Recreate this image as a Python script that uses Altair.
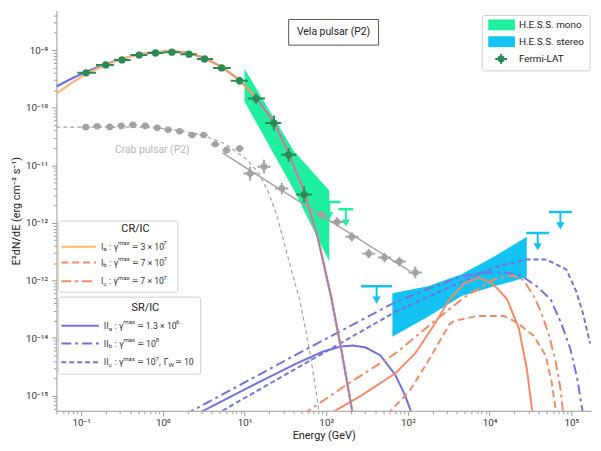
import altair as alt
import pandas as pd

# ---------------- data ----------------
# Fermi-LAT, Vela pulsar P2
fermi_E = [0.115, 0.200, 0.316, 0.513, 0.813, 1.29, 2.09, 3.24, 5.25, 8.71, 13.8, 22.9, 34.7, 53.7]
fermi_F = [4.03e-10, 5.53e-10, 6.74e-10, 8.2e-10, 8.9e-10, 9.2e-10, 8.5e-10, 7.0e-10, 4.9e-10,
           2.94e-10, 1.44e-10, 5.4e-11, 1.52e-11, 3.1e-12]
fermi_Elo = [0.090, 0.152, 0.251, 0.403, 0.646, 1.02, 1.64, 2.60, 4.12, 6.76, 11.0, 17.8, 28.2, 43.2]
fermi_Ehi = [0.152, 0.251, 0.403, 0.646, 1.02, 1.64, 2.60, 4.12, 6.76, 11.0, 17.8, 28.2, 43.2, 66.8]
fermi_dF = [0.05, 0.05, 0.05, 0.05, 0.05, 0.05, 0.05, 0.05, 0.05, 0.07, 0.09, 0.13, 0.12, 0.14]

# Crab pulsar P2
crab_E = [0.114, 0.157, 0.224, 0.310, 0.430, 0.607, 0.853, 1.16, 1.61, 2.28, 3.16, 4.38, 6.00, 8.69,
          11.7, 17.3, 28.6, 89.3, 136, 206, 331, 518, 785, 1230]
crab_F = [4.59e-11, 4.77e-11, 4.64e-11, 4.83e-11, 5.03e-11, 4.83e-11, 4.47e-11, 4.13e-11, 3.88e-11,
          3.35e-11, 3.35e-11, 2.32e-11, 1.83e-11, 1.95e-11, 7.18e-12, 9.46e-12, 3.97e-12, 1.37e-12,
          1.04e-12, 5.73e-13, 2.93e-13, 2.50e-13, 2.13e-13, 1.38e-13]
crab_dE = [0.05] * 14 + [0.08] * 10
crab_dF = [0.04] * 12 + [0.06, 0.06, 0.12, 0.12, 0.10, 0.08, 0.08, 0.08, 0.08, 0.08, 0.08, 0.10]
crab_cut_E = [0.0498, 0.665, 1.53, 3.08, 5.83, 10.8, 15.0, 19.9, 24.8, 31.0, 37.8, 47.1, 57.3, 67.8, 75.7, 82.2]
crab_cut_F = [4.59e-11, 4.59e-11, 4.08e-11, 3.35e-11, 2.34e-11, 1.25e-11, 7.18e-12, 3.26e-12, 1.37e-12,
              4.18e-13, 1.44e-13, 4.76e-14, 1.19e-14, 3.0e-15, 1.12e-15, 4.69e-16]
crab_pl_E = [5.37, 1067]
crab_pl_F = [1.64e-11, 1.44e-13]

# H.E.S.S. bands
mono_E = [10.0, 39.9, 109]
mono_hi = [4.72e-10, 1.78e-11, 3.66e-12]
mono_lo = [1.28e-10, 3.81e-12, 2.13e-13]
stereo_E = [646, 1762, 4540, 11380, 28500]
stereo_hi = [6.04e-14, 7.96e-14, 1.28e-13, 2.6e-13, 5.73e-13]
stereo_lo = [1.06e-14, 2.34e-14, 5.36e-14, 7.96e-14, 1.135e-13]

# upper limits
mono_ul_E = [109, 174]
mono_ul_F = [2.3e-12, 1.73e-12]
mono_ul_w = [0.14, 0.09]
stereo_ul_E = [414, 38800, 73600]
stereo_ul_F = [7.96e-14, 6.7e-13, 1.54e-12]
stereo_ul_w = [0.19, 0.14, 0.14]

# model curves: GeV component
IIa_gev_E = [0.0498, 0.0716, 0.115, 0.200, 0.313, 0.518, 0.807, 1.30, 2.08, 3.25, 5.22, 8.61, 13.8, 22.9,
             34.7, 54.2, 80.0, 115, 156, 212]
IIa_gev_F = [2.32e-10, 3.05e-10, 4.20e-10, 5.75e-10, 7.01e-10, 8.53e-10, 9.24e-10, 9.61e-10, 8.89e-10,
             7.29e-10, 5.11e-10, 3.05e-10, 1.50e-10, 5.60e-11, 1.64e-11, 3.39e-12, 5.09e-13, 5.15e-14,
             5.42e-15, 4.69e-16]
Ia_gev_F = [1.76e-10, 2.51e-10, 3.87e-10, 5.53e-10] + IIa_gev_F[4:]
# TeV components
IIa_E = [2.53, 10.8, 43.4, 92.0, 152, 212, 305, 462, 703, 929, 1127]
IIa_F = [4.69e-16, 1.36e-15, 3.66e-15, 5.86e-15, 7.14e-15, 7.43e-15, 6.87e-15, 5.01e-15, 2.28e-15,
         9.93e-16, 4.69e-16]
IIb_E = [1.86, 2.67, 43.4, 703, 2138, 4540, 8610, 15030, 24150, 37670, 55700, 75700, 97200, 118000, 139600]
IIb_F = [4.69e-16, 6.18e-16, 5.21e-15, 4.23e-14, 7.96e-14, 1.18e-13, 1.38e-13, 1.38e-13, 1.23e-13,
         7.96e-14, 4.76e-14, 1.77e-14, 6.61e-15, 2.02e-15, 4.69e-16]
IIc_E = [4.42, 43.4, 703, 2825, 11380, 28500, 49800, 86900, 114800, 139600, 169800]
IIc_F = [4.69e-16, 3.0e-15, 2.85e-14, 7.06e-14, 1.69e-13, 2.31e-13, 2.31e-13, 1.56e-13, 6.53e-14,
         2.63e-14, 8.05e-15]
Ia_E = [106, 265, 703, 1227, 2138, 3250, 4930, 7500, 11380, 16370, 22860, 28500, 33700]
Ia_F = [4.69e-16, 9.93e-16, 2.46e-15, 5.42e-15, 1.77e-14, 4.76e-14, 8.95e-14, 1.135e-13, 8.28e-14,
        4.76e-14, 1.46e-14, 3.0e-15, 4.69e-16]
Ib_E = [562, 703, 1067, 1762, 3250, 3733, 7100, 15030, 21000, 34700, 48400, 57300, 65800]
Ib_F = [4.69e-16, 6.68e-16, 1.26e-15, 3.95e-15, 1.77e-14, 2.0e-14, 2.43e-14, 2.43e-14, 1.92e-14,
        1.10e-14, 5.01e-15, 1.79e-15, 4.69e-16]
Ic_E = [51.3, 175, 703, 2138, 4930, 11380, 18800, 26200, 34700, 42200, 52700, 64000, 73600, 80000]
Ic_F = [4.69e-16, 1.53e-15, 5.42e-15, 2.0e-14, 5.15e-14, 1.05e-13, 1.23e-13, 1.01e-13, 5.36e-14,
        2.96e-14, 1.19e-14, 4.11e-15, 1.36e-15, 4.69e-16]

x_decades = [-1, 0, 1, 2, 3, 4, 5]
y_decades = [-15, -14, -13, -12, -11, -10, -9]

# ---------------- styling ----------------
FONT = "Roboto"
GREEN_BAND = "#1ff0a0"
CYAN = "#14c3f2"
FERMI = "#2d8a55"
CRAB = "#a3a3a3"
ORANGE = "#fdb870"
SALMON = "#f58a66"
PURPLE = "#7272e2"

W, H = 541, 405
X_DOM = [0.0498, 1.745e5]
Y_DOM = [5.48e-16, 4.85e-9]
xs = alt.Scale(type="log", domain=X_DOM, nice=False)
ys = alt.Scale(type="log", domain=Y_DOM, nice=False)

SUP = str.maketrans("-0123456789", "⁻⁰¹²³⁴⁵⁶⁷⁸⁹")


def label_expr(decades):
    parts = []
    for k in decades:
        parts.append(f"abs(log(datum.value)/LN10 - ({k})) < 0.01 ? '10{str(k).translate(SUP)}'")
    return " : ".join(parts) + " : ''"


def minor_values(lo, hi):
    vals = []
    for k in range(-17, 7):
        for m in range(1, 10):
            v = m * 10.0 ** k
            if lo <= v <= hi:
                vals.append(v)
    return vals


IS_MAJOR = "abs(log(datum.value)/LN10 - round(log(datum.value)/LN10)) < 0.001"
tick_size = {"condition": {"test": IS_MAJOR, "value": 5}, "value": 3}

x_axis = alt.Axis(values=minor_values(*X_DOM), labelExpr=label_expr(x_decades), title="Energy (GeV)",
                  tickSize=tick_size, grid=False, labelFont=FONT, labelFontSize=10, labelColor="#333",
                  titleFont=FONT, titleFontSize=11, titleFontWeight="normal", titleColor="#222",
                  domainColor="#9a9a9a", tickColor="#9a9a9a", labelPadding=2,
                  titleY=25, titleBaseline="middle", labelFlush=False)
y_axis = alt.Axis(values=minor_values(*Y_DOM), labelExpr=label_expr(y_decades),
                  title="E²dN/dE (erg cm⁻² s⁻¹)", tickSize=tick_size, grid=False, labelFont=FONT,
                  labelFontSize=10, labelColor="#333", titleFont=FONT, titleFontSize=11,
                  titleFontWeight="normal", titleColor="#222", domainColor="#9a9a9a", tickColor="#9a9a9a",
                  labelPadding=4, titleX=-40, titleY=H / 2, titleBaseline="middle", labelFlush=False)


def X(field="E"):
    return alt.X(f"{field}:Q", scale=xs, axis=x_axis)


def Y(field="F"):
    return alt.Y(f"{field}:Q", scale=ys, axis=y_axis)


def curve(E, F, color, width=2.0, dash=None, opacity=1.0):
    df = pd.DataFrame({"E": E, "F": F})
    kw = dict(clip=True, color=color, strokeWidth=width, opacity=opacity)
    if dash:
        kw["strokeDash"] = dash
    return alt.Chart(df).mark_line(**kw).encode(x=X(), y=Y())


def band(E, lo, hi, color):
    df = pd.DataFrame({"E": E, "lo": lo, "F": hi})
    return alt.Chart(df).mark_area(clip=True, color=color, opacity=1).encode(
        x=X(), y=Y(), y2="lo:Q")


def points(E, F, dE_lo, dE_hi, F_lo, F_hi, color, size):
    df = pd.DataFrame({"E": E, "F": F, "Elo": dE_lo, "Ehi": dE_hi, "Flo": F_lo, "Fhi": F_hi})
    base = alt.Chart(df)
    h = base.mark_rule(clip=True, color=color, strokeWidth=2).encode(x=X("Elo"), x2="Ehi:Q", y=Y())
    v = base.mark_rule(clip=True, color=color, strokeWidth=2).encode(x=X(), y=Y("Flo"), y2="Fhi:Q")
    p = base.mark_point(clip=True, filled=True, color=color, size=size, opacity=1, shape="circle").encode(
        x=X(), y=Y())
    return [h, v, p]


def upper_limits(E, F, w, color):
    df = pd.DataFrame({"E": E, "F": F,
                       "Elo": [e * 10 ** (-d) for e, d in zip(E, w)],
                       "Ehi": [e * 10 ** d for e, d in zip(E, w)],
                       "Ftip": [f * 10 ** (-0.24) for f in F]})
    base = alt.Chart(df)
    bar = base.mark_rule(clip=True, color=color, strokeWidth=2.5).encode(x=X("Elo"), x2="Ehi:Q", y=Y())
    stem = base.mark_rule(clip=True, color=color, strokeWidth=2).encode(x=X(), y=Y(), y2="Ftip:Q")
    head = base.mark_point(clip=True, shape="triangle-down", filled=True, color=color, size=70,
                           opacity=1).encode(x=X(), y=Y("Ftip"))
    return [bar, stem, head]


one = pd.DataFrame({"k": [0]})


def txt(x, y, s, size=9, color="#333", align="left", font=FONT):
    return alt.Chart(one).mark_text(text=s, align=align, baseline="middle", fontSize=size, color=color,
                                    font=font).encode(x=alt.value(x), y=alt.value(y))


def rect(x1, y1, x2, y2, fill="white", stroke=None, sw=1, radius=0):
    kw = dict(fill=fill, cornerRadius=radius)
    if stroke:
        kw.update(stroke=stroke, strokeWidth=sw)
    return alt.Chart(one).mark_rect(**kw).encode(x=alt.value(x1), x2=alt.value(x2), y=alt.value(y1),
                                                 y2=alt.value(y2))


def seg(x1, x2, y, color, width=2, dash=None):
    kw = dict(color=color, strokeWidth=width)
    if dash:
        kw["strokeDash"] = dash
    return alt.Chart(one).mark_rule(**kw).encode(x=alt.value(x1), x2=alt.value(x2), y=alt.value(y))


# approximate advance widths (em) for placing sub/superscript pieces
CW = {"I": 0.28, "a": 0.54, "b": 0.56, "c": 0.52, "m": 0.88, "x": 0.50, "W": 0.77, ":": 0.24,
      " ": 0.25, ".": 0.26, ",": 0.20, "γ": 0.49, "Γ": 0.55, "×": 0.45, "≃": 0.84}
for d in "0123456789":
    CW[d] = 0.56
NORMAL, SMALL = 8.8, 6.2


def rich(x, y, pieces):
    out = []
    cx = x
    for s, kind in pieces:
        if kind == "gap":
            cx += s
            continue
        size = NORMAL if kind == "n" else SMALL
        dy = {"n": 0, "sub": 2.8, "sup": -3.6}[kind]
        font = "DejaVu Sans" if s == "≃" else FONT
        out.append(txt(cx, y + dy, s, size=size if s != "≃" else 8.0, font=font))
        cx += sum(CW.get(c, 0.55) for c in s) * (size if s != "≃" else 8.0)
    return out


def gamma_max(value_pieces):
    return [(2.5, "gap"), (":", "n"), (2.5, "gap"), ("γ", "n"), ("max", "sup"), (2.2, "gap"),
            ("≃", "n"), (2.0, "gap")] + value_pieces


DASH_D = [7, 4]
DASH_DD = [10, 4, 3, 4]
DASH_S = [5, 3]

layers = []
layers.append(band(mono_E, mono_lo, mono_hi, GREEN_BAND))
layers.append(band(stereo_E, stereo_lo, stereo_hi, CYAN))

# Crab
layers.append(curve(crab_cut_E, crab_cut_F, CRAB, width=1.2, dash=[4, 3]))
layers.append(curve(crab_pl_E, crab_pl_F, CRAB, width=1.4))
layers += points(crab_E, crab_F,
                 [e * 10 ** (-d) for e, d in zip(crab_E, crab_dE)],
                 [e * 10 ** d for e, d in zip(crab_E, crab_dE)],
                 [f * 10 ** (-d) for f, d in zip(crab_F, crab_dF)],
                 [f * 10 ** d for f, d in zip(crab_F, crab_dF)], CRAB, 45)

# model curves
layers.append(curve(IIa_E, IIa_F, PURPLE))
layers.append(curve(IIb_E, IIb_F, PURPLE, dash=DASH_DD))
layers.append(curve(IIc_E, IIc_F, PURPLE, dash=DASH_S))
layers.append(curve(Ia_E, Ia_F, SALMON))
layers.append(curve(Ib_E, Ib_F, SALMON, dash=DASH_D))
layers.append(curve(Ic_E, Ic_F, SALMON, dash=DASH_DD))
layers.append(curve(IIa_gev_E, IIa_gev_F, PURPLE, width=2.2))
layers.append(curve(IIa_gev_E, Ia_gev_F, ORANGE, width=2.2))
layers.append(curve(IIa_gev_E[7:], Ia_gev_F[7:], SALMON, width=1.6, opacity=0.8))
layers.append(curve(IIa_gev_E[12:], IIa_gev_F[12:], PURPLE, width=1.2, opacity=0.8))

# Fermi-LAT
layers += points(fermi_E, fermi_F, fermi_Elo, fermi_Ehi,
                 [f * 10 ** (-d) for f, d in zip(fermi_F, fermi_dF)],
                 [f * 10 ** d for f, d in zip(fermi_F, fermi_dF)], FERMI, 55)

# upper limits
layers += upper_limits(mono_ul_E, mono_ul_F, mono_ul_w, GREEN_BAND)
layers += upper_limits(stereo_ul_E, stereo_ul_F, stereo_ul_w, CYAN)

# annotations
layers.append(rect(235, 9, 326, 35, stroke="#555", sw=1))
layers.append(txt(280.5, 22, "Vela pulsar (P2)", size=10.5, color="#222", align="center"))
layers.append(txt(97, 141, "Crab pulsar (P2)", size=10.5, color="#b8b8b8", align="center"))

# top-right legend
layers.append(rect(431, 5, 540, 61, stroke="#cfcfcf", sw=1, radius=2))
layers.append(rect(437, 9, 464, 20, fill=GREEN_BAND))
layers.append(rect(437, 26, 464, 37, fill=CYAN))
layers.append(seg(444, 456, 49, FERMI, width=2))
layers.append(alt.Chart(one).mark_rule(color=FERMI, strokeWidth=2).encode(
    x=alt.value(450), y=alt.value(44), y2=alt.value(54)))
layers.append(alt.Chart(one).mark_point(filled=True, color=FERMI, size=50, opacity=1).encode(
    x=alt.value(450), y=alt.value(49)))
layers.append(txt(468, 14.5, "H.E.S.S. mono", size=10, color="#222"))
layers.append(txt(468, 31.5, "H.E.S.S. stereo", size=10, color="#222"))
layers.append(txt(468, 49, "Fermi-LAT", size=10, color="#222"))

# CR/IC legend
layers.append(rect(2, 213, 123, 285, stroke="#cfcfcf", sw=1, radius=2))
layers.append(txt(80, 221, "CR/IC", size=11, color="#222", align="center"))
cr_rows = [(239, ORANGE, None, "a", [("3 × 10", "n"), ("7", "sup")]),
           (255, SALMON, DASH_D, "b", [("7 × 10", "n"), ("7", "sup")]),
           (274, SALMON, DASH_DD, "c", [("7 × 10", "n"), ("7", "sup")])]
for yy, col, dash, sub, val in cr_rows:
    layers.append(seg(5, 40, yy, col, width=2, dash=dash))
    layers += rich(45, yy, [("I", "n"), (sub, "sub")] + gamma_max(val))

# SR/IC legend
layers.append(rect(2, 290, 146, 368, stroke="#cfcfcf", sw=1, radius=2))
layers.append(txt(90, 301, "SR/IC", size=11, color="#222", align="center"))
sr_rows = [(319, None, "a", [("1.3 × 10", "n"), ("6", "sup")]),
           (337, DASH_DD, "b", [("10", "n"), ("8", "sup")]),
           (356, DASH_S, "c", [("10", "n"), ("7", "sup"), (",", "n"), (3.0, "gap"), ("Γ", "n"),
                               ("W", "sub"), (2.2, "gap"), ("≃", "n"), (2.0, "gap"), ("10", "n")])]
for yy, dash, sub, val in sr_rows:
    layers.append(seg(5, 43, yy, PURPLE, width=2, dash=dash))
    layers += rich(48, yy, [("II", "n"), (sub, "sub")] + gamma_max(val))

chart = alt.layer(*layers).properties(
    width=W, height=H,
    autosize=alt.AutoSizeParams(type="none"),
    padding={"left": 49, "top": 0, "right": 2, "bottom": 30},
).configure_view(stroke=None)

chart.save("out.html", embed_options={"renderer": "svg", "actions": False})
